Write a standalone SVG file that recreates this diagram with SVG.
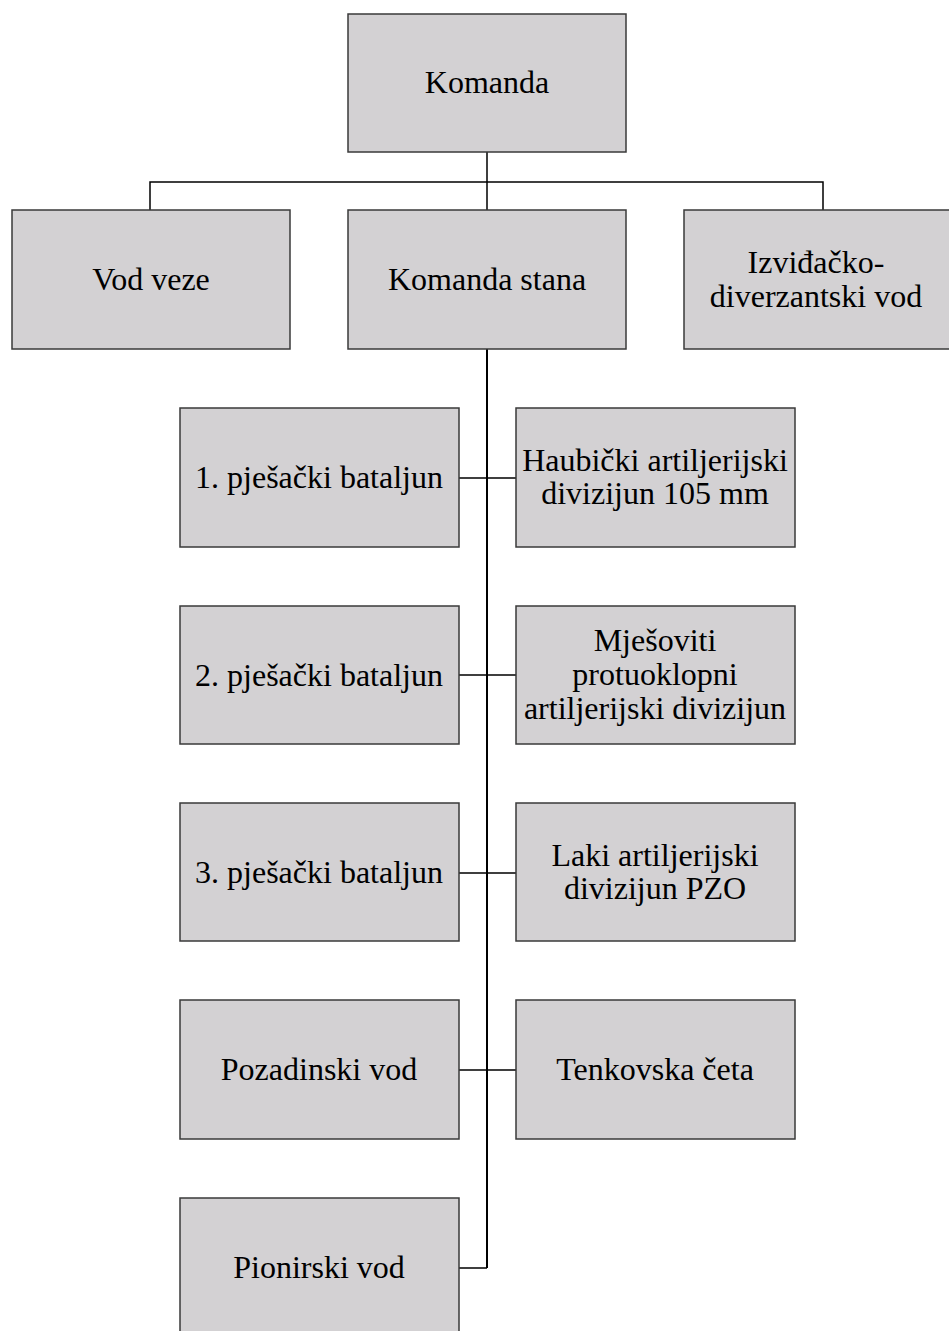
<svg xmlns="http://www.w3.org/2000/svg" width="949" height="1331" viewBox="0 0 949 1331">
<style>
.box{fill:#d3d1d3;stroke:#3a3a3a;stroke-width:1.5}
.t{font-family:"Liberation Serif","Times New Roman",serif;font-size:32px;fill:#000;text-anchor:middle}
.c{stroke:#000;stroke-width:1.5;fill:none}
.trunk{stroke:#000;stroke-width:2;fill:none}
</style>
<rect width="949" height="1331" fill="#fff"/>
<g id="connectors">
<path class="c" d="M487 152V210M150 210V182H823V210"/>
<path class="trunk" d="M487 349V1268"/>
<path class="c" d="M487 1268H459M459 478H516M459 675H516M459 873H516M459 1070H516"/>
</g>
<g id="komanda"><rect class="box" x="348" y="14" width="278" height="138"/><text class="t" x="487" y="93">Komanda</text></g>
<g id="vod-veze"><rect class="box" x="12" y="210" width="278" height="139"/><text class="t" x="151" y="290">Vod veze</text></g>
<g id="komanda-stana"><rect class="box" x="348" y="210" width="278" height="139"/><text class="t" x="487" y="290">Komanda stana</text></g>
<g id="izvidacko"><rect class="box" x="684" y="210" width="278" height="139"/><text class="t" x="816" y="273">Izviđačko-</text><text class="t" x="816" y="307">diverzantski vod</text></g>
<g id="bat1"><rect class="box" x="180" y="408" width="279" height="139"/><text class="t" x="319" y="488">1. pješački bataljun</text></g>
<g id="haub"><rect class="box" x="516" y="408" width="279" height="139"/><text class="t" x="655" y="471">Haubički artiljerijski</text><text class="t" x="655" y="504">divizijun 105 mm</text></g>
<g id="bat2"><rect class="box" x="180" y="606" width="279" height="138"/><text class="t" x="319" y="686">2. pješački bataljun</text></g>
<g id="mjes"><rect class="box" x="516" y="606" width="279" height="138"/><text class="t" x="655" y="651">Mješoviti</text><text class="t" x="655" y="685">protuoklopni</text><text class="t" x="655" y="719">artiljerijski divizijun</text></g>
<g id="bat3"><rect class="box" x="180" y="803" width="279" height="138"/><text class="t" x="319" y="883">3. pješački bataljun</text></g>
<g id="laki"><rect class="box" x="516" y="803" width="279" height="138"/><text class="t" x="655" y="866">Laki artiljerijski</text><text class="t" x="655" y="899">divizijun PZO</text></g>
<g id="pozadinski"><rect class="box" x="180" y="1000" width="279" height="139"/><text class="t" x="319" y="1080">Pozadinski vod</text></g>
<g id="tenkovska"><rect class="box" x="516" y="1000" width="279" height="139"/><text class="t" x="655" y="1080">Tenkovska četa</text></g>
<g id="pionirski"><rect class="box" x="180" y="1198" width="279" height="140"/><text class="t" x="319" y="1278">Pionirski vod</text></g>
</svg>
